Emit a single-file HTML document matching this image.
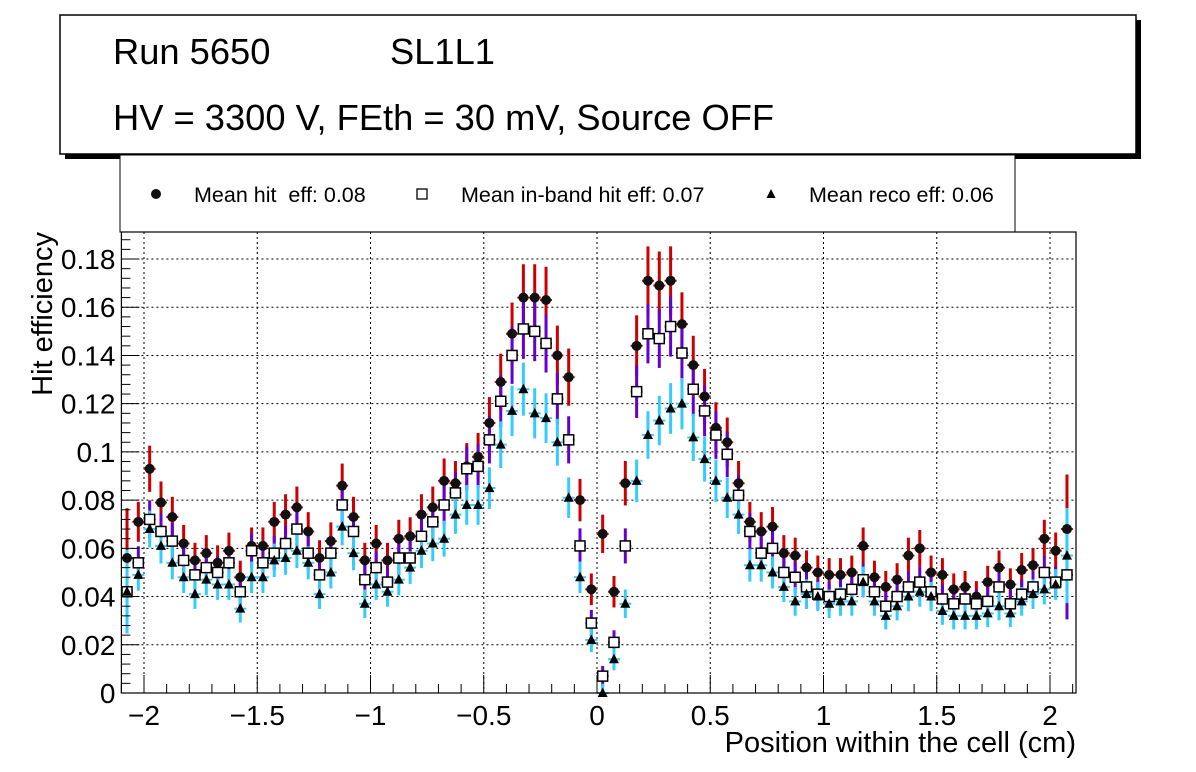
<!DOCTYPE html>
<html><head><meta charset="utf-8"><style>
body{margin:0;background:#fff;width:1196px;height:772px;overflow:hidden;font-family:"Liberation Sans",sans-serif}
svg{display:block}
</style></head><body>
<svg id="c" width="1196" height="772" xmlns="http://www.w3.org/2000/svg">
<rect x="65" y="20" width="1076" height="139" fill="#000"/>
<rect x="60" y="15" width="1076" height="139" fill="#fff" stroke="#000" stroke-width="1.5"/>
<text x="113" y="64" font-size="36.3">Run 5650</text>
<text x="390" y="64" font-size="36.3">SL1L1</text>
<text x="113" y="130" font-size="36.3">HV = 3300 V, FEth = 30 mV, Source OFF</text>
<rect x="120" y="155" width="895" height="77" fill="#fff" stroke="#000" stroke-width="1"/>
<g id="plot"></g>
</svg>
<script>
const categories=[];for(let i=0;i<84;i++)categories.push(-2.075+0.05*i);
const hitEff=[0.056,0.071,0.093,0.079,0.073,0.062,0.055,0.058,0.054,0.059,0.048,0.061,0.061,0.071,0.074,0.077,0.067,0.056,0.063,0.086,0.073,0.055,0.062,0.055,0.064,0.065,0.074,0.077,0.088,0.087,0.094,0.098,0.112,0.129,0.149,0.164,0.164,0.163,0.140,0.131,0.080,0.043,0.066,0.042,0.087,0.144,0.171,0.169,0.171,0.153,0.136,0.123,0.110,0.104,0.087,0.071,0.067,0.069,0.058,0.057,0.052,0.050,0.049,0.049,0.050,0.061,0.048,0.044,0.047,0.057,0.060,0.050,0.049,0.043,0.044,0.040,0.046,0.052,0.045,0.051,0.053,0.064,0.059,0.068];
const inbandEff=[0.042,0.054,0.072,0.067,0.063,0.055,0.049,0.052,0.050,0.054,0.042,0.059,0.054,0.058,0.062,0.068,0.058,0.049,0.058,0.078,0.067,0.047,0.052,0.046,0.056,0.056,0.065,0.071,0.078,0.083,0.093,0.094,0.105,0.121,0.140,0.151,0.150,0.145,0.122,0.105,0.061,0.029,0.007,0.021,0.061,0.125,0.149,0.147,0.152,0.141,0.126,0.117,0.107,0.099,0.082,0.067,0.058,0.060,0.050,0.048,0.044,0.041,0.040,0.041,0.043,0.047,0.042,0.036,0.040,0.044,0.046,0.042,0.039,0.037,0.039,0.037,0.038,0.044,0.037,0.041,0.044,0.050,0.046,0.049];
const recoEff=[0.042,0.049,0.068,0.061,0.054,0.048,0.041,0.047,0.045,0.045,0.035,0.048,0.048,0.055,0.056,0.059,0.054,0.041,0.050,0.069,0.058,0.037,0.045,0.042,0.047,0.052,0.059,0.062,0.064,0.074,0.078,0.078,0.085,0.103,0.117,0.126,0.116,0.114,0.104,0.081,0.048,0.022,0.000,0.014,0.037,0.088,0.107,0.113,0.118,0.120,0.106,0.097,0.088,0.081,0.074,0.053,0.053,0.050,0.044,0.038,0.041,0.040,0.037,0.038,0.038,0.046,0.038,0.032,0.036,0.040,0.042,0.040,0.034,0.032,0.032,0.032,0.033,0.036,0.033,0.038,0.041,0.043,0.045,0.057];
const xTicks=[-2,-1.5,-1,-0.5,0,0.5,1,1.5,2];
const xTickLabels=["\u22122","\u22121.5","\u22121","\u22120.5","0","0.5","1","1.5","2"];
const yTicks=[0,0.02,0.04,0.06,0.08,0.1,0.12,0.14,0.16,0.18];
const yTickLabels=["0","0.02","0.04","0.06","0.08","0.1","0.12","0.14","0.16","0.18"];
const L=121.4,R=1076,T=232,B=693;
const X=v=>597+226.5*v, Y=v=>693-2411*v;
const NS="http://www.w3.org/2000/svg",g=document.getElementById('plot');
function mk(t,a,p){const e=document.createElementNS(NS,t);for(const k in a)e.setAttribute(k,a[k]);(p||g).appendChild(e);return e;}
xTicks.forEach(v=>{const e=mk('line',{x1:X(v),x2:X(v),y1:T,y2:B,stroke:'#000','stroke-dasharray':'2,3','stroke-width':1});

});
yTicks.forEach(v=>{if(v===0)return;const e=mk('line',{x1:L,x2:R,y1:Y(v),y2:Y(v),stroke:'#000','stroke-dasharray':'2,3','stroke-width':1});

});
function err(v,k){return k*(0.004+0.06*v);}
const series=[{d:hitEff,c:'#cc0000',k:1.0,m:'circle',n:'hit'},{d:inbandEff,c:'#6600cc',k:0.95,m:'square',n:'inband'},{d:recoEff,c:'#33ccff',k:0.95,m:'triangle',n:'reco'}];
series.forEach(s=>{
 const grp=mk('g',{});
 
 
 s.d.forEach((v,i)=>{
  const x=X(categories[i]),y=Y(v);let e=err(v,s.k);
  if(i<1||i>82)e*=2.8;
  const y1=Math.max(Y(v+e),T),y2=Math.min(Y(Math.max(v-e,0)),B);
  const bar=mk('line',{x1:x,x2:x,y1:y1,y2:y2,stroke:s.c,'stroke-width':3},grp);
  
  
  mk('line',{x1:x-6,x2:x+6,y1:y,y2:y,stroke:s.c,'stroke-width':2},grp);
 });
});
series.forEach(s=>{
 s.d.forEach((v,i)=>{
  const x=X(categories[i]),y=Y(v);let e;
  if(s.m==='circle')e=mk('circle',{cx:x,cy:y,r:5,fill:'#111'});
  else if(s.m==='square')e=mk('rect',{x:x-5,y:y-5,width:10,height:10,fill:'#fff',stroke:'#000','stroke-width':1.5});
  else e=mk('polygon',{points:`${x},${y-5.5} ${x-5},${y+4} ${x+5},${y+4}`,fill:'#000'});
  
  
 });
});
const fr=mk('rect',{x:L,y:T,width:R-L,height:B-T,fill:'none',stroke:'#000','stroke-width':1.2});


for(let v=-2.1;v<=2.101;v+=0.1){const mj=Math.abs(v*2-Math.round(v*2))<1e-6;mk('line',{x1:X(v),x2:X(v),y1:B,y2:B-(mj?18:9),stroke:'#000','stroke-width':1});}
xTicks.forEach((v,i)=>{const t=mk('text',{x:X(v),y:B+32,'font-size':28,'text-anchor':'middle'});t.textContent=xTickLabels[i];

});
for(let v=0;v<=0.19;v+=0.004){const mj=Math.abs(v/0.02-Math.round(v/0.02))<1e-6;mk('line',{x1:L,x2:L+(mj?18:9),y1:Y(v),y2:Y(v),stroke:'#000','stroke-width':1});}
yTicks.forEach((v,i)=>{const t=mk('text',{x:L-6,y:Y(v)+10,'font-size':28,'text-anchor':'end'});t.textContent=yTickLabels[i];

});
let t=mk('text',{x:1076,y:752,'font-size':29,'text-anchor':'end'});t.textContent='Position within the cell (cm)';


t=mk('text',{x:0,y:0,'font-size':29,'text-anchor':'end',transform:'translate(52,232) rotate(-90)'});t.textContent='Hit efficiency';


const lg=[['circle','Mean hit  eff: 0.08',156,194],['square','Mean in-band hit eff: 0.07',422,461],['triangle','Mean reco eff: 0.06',771,809]];
lg.forEach(a=>{let e;const x=a[2],y=194;
 if(a[0]==='circle')e=mk('circle',{cx:x,cy:y,r:5,fill:'#111'});
 else if(a[0]==='square')e=mk('rect',{x:x-5,y:y-5,width:10,height:10,fill:'#fff',stroke:'#000','stroke-width':1.3});
 else e=mk('polygon',{points:`${x},${y-5} ${x-4.5},${y+4} ${x+4.5},${y+4}`,fill:'#000'});
 
 
 const tt=mk('text',{x:a[3],y:202,'font-size':21.5});tt.textContent=a[1].replace('  ','\u00a0 ');
 
 
});
</script>
</body></html>
